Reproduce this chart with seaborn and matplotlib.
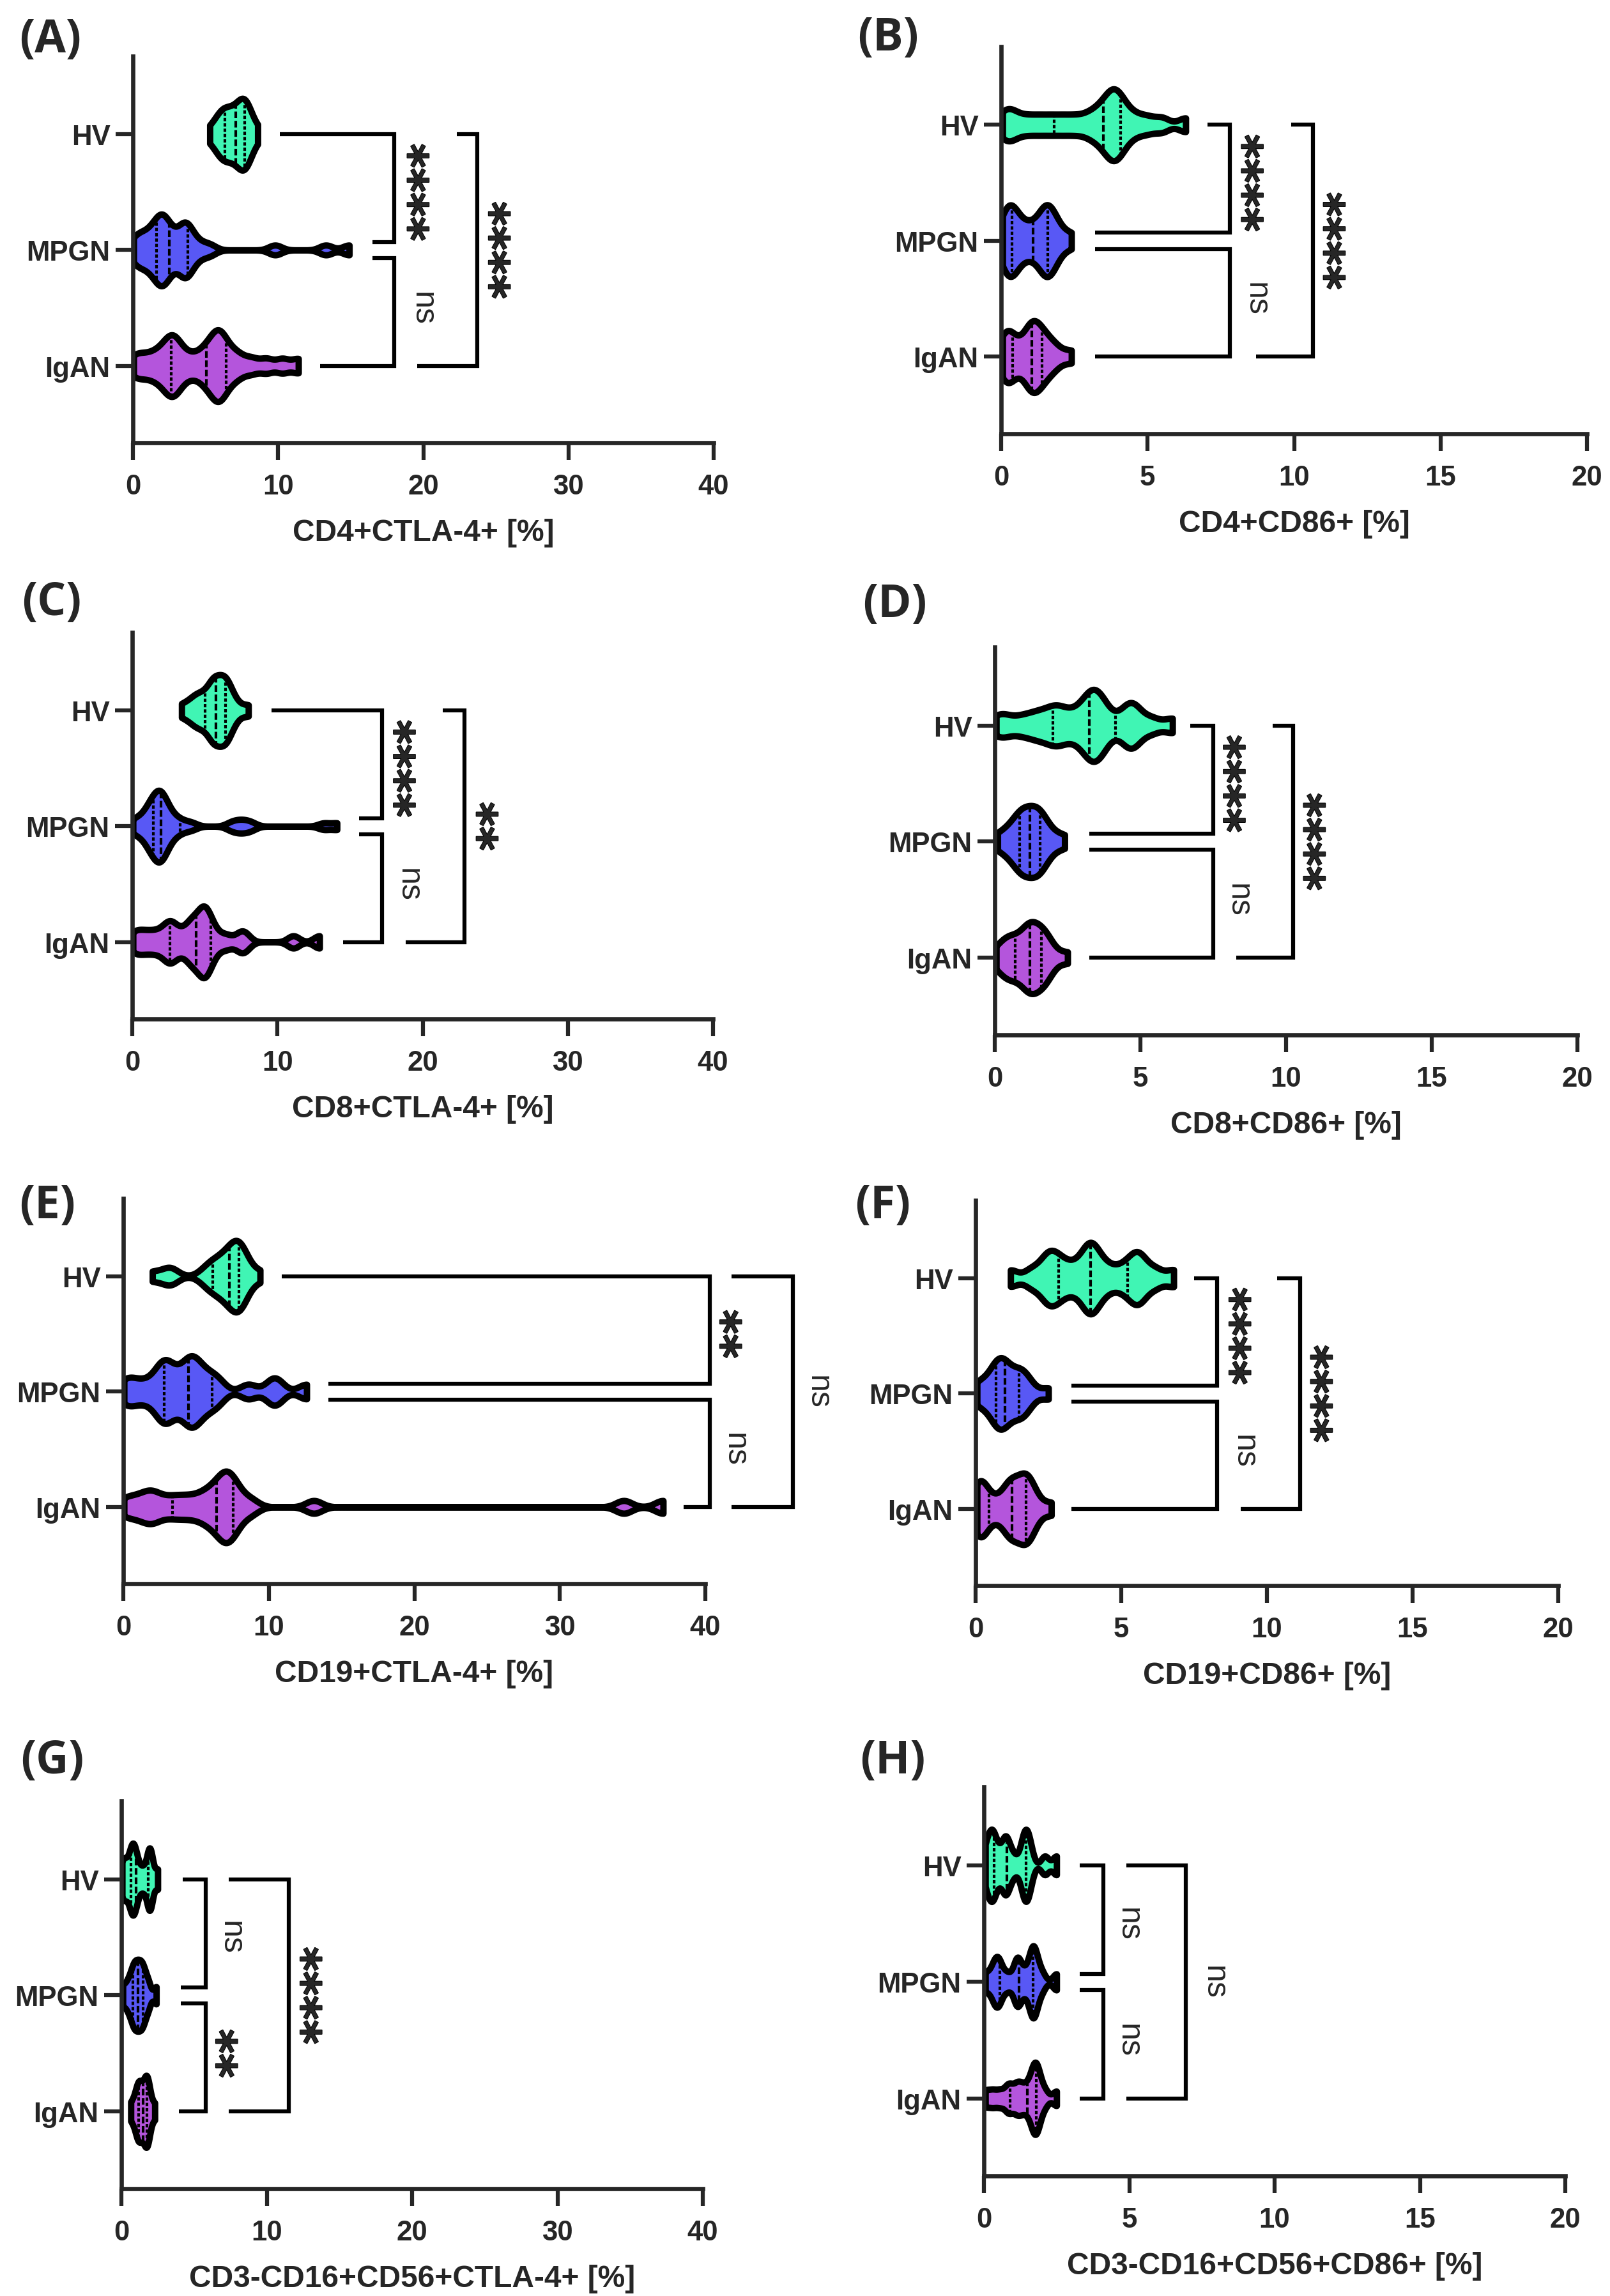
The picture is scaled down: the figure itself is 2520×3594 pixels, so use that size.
import numpy as np
import pandas as pd
import matplotlib
matplotlib.use("Agg")
import matplotlib.pyplot as plt
import matplotlib.transforms as mtransforms
import matplotlib.patheffects as pe
import seaborn as sns

GROUPS = ["HV", "MPGN", "IgAN"]
COLORS = {"HV": "#40F5B4", "MPGN": "#5858F5", "IgAN": "#B455DC"}

# ---- values (percent of cells) ----
A_HV = [5.3, 5.8, 6.0, 6.1, 6.3, 6.4, 6.6, 6.8, 7.0, 7.1, 7.3, 7.5, 7.6, 7.7, 7.7, 7.8, 7.9, 8.0, 8.6]
A_MPGN = [0.05, 0.3, 0.6, 0.9, 1.2, 1.4, 1.6, 1.8, 1.9, 2.0, 2.1, 2.2, 2.4, 2.6, 2.9, 3.3, 3.5, 3.6,
          3.7, 3.8, 4.1, 4.6, 5.3, 9.8, 13.3, 14.9]
A_IGAN = [0.05, 0.6, 1.2, 1.7, 2.1, 2.4, 2.6, 2.8, 3.0, 3.3, 3.8, 4.4, 4.9, 5.2, 5.5, 5.7, 5.9, 6.0,
          6.2, 6.5, 6.9, 7.4, 8.2, 9.2, 10.3, 11.4]

B_HV = [0.05, 0.25, 0.5, 0.9, 1.3, 1.7, 2.1, 2.5, 2.9, 3.2, 3.4, 3.6, 3.7, 3.8, 3.9, 4.0, 4.1, 4.3,
        4.6, 5.0, 5.5, 6.3]
B_MPGN = [0.05, 0.15, 0.25, 0.3, 0.35, 0.45, 0.6, 0.8, 1.0, 1.2, 1.4, 1.5, 1.55, 1.6, 1.7, 1.8, 2.0, 2.4]
B_IGAN = [0.05, 0.15, 0.2, 0.3, 0.4, 0.7, 0.9, 1.0, 1.05, 1.1, 1.15, 1.3, 1.4, 1.5, 1.7, 1.9, 2.4]

C_HV = [3.4, 4.0, 4.3, 4.6, 4.8, 5.1, 5.4, 5.5, 5.6, 5.7, 5.8, 6.0, 6.2, 6.3, 6.4, 6.5, 6.6, 6.8, 7.2, 8.0]
C_MPGN = [0.05, 0.3, 0.7, 0.9, 1.1, 1.2, 1.3, 1.4, 1.5, 1.6, 1.7, 1.8, 1.85, 1.9, 1.95, 2.0, 2.1, 2.2,
          2.3, 2.4, 2.6, 2.8, 3.1, 3.5, 4.1, 6.8, 7.3, 7.7, 8.2, 13.2, 14.1]
C_IGAN = [0.05, 0.5, 1.0, 1.5, 2.0, 2.4, 2.6, 2.8, 3.2, 3.7, 4.0, 4.2, 4.4, 4.7, 4.85, 4.95, 5.05, 5.2,
          5.4, 5.8, 6.5, 7.4, 7.8, 11.1, 12.9]

D_HV = [0.05, 0.4, 0.9, 1.3, 1.6, 1.9, 2.1, 2.3, 2.6, 2.9, 3.1, 3.25, 3.35, 3.45, 3.55, 3.7, 3.9, 4.4,
        4.6, 4.75, 4.9, 5.4, 6.1]
D_MPGN = [0.1, 0.4, 0.6, 0.8, 0.85, 0.9, 1.0, 1.1, 1.2, 1.3, 1.4, 1.5, 1.55, 1.6, 1.7, 2.0, 2.4]
D_IGAN = [0.05, 0.3, 0.45, 0.55, 0.7, 0.9, 1.1, 1.15, 1.2, 1.25, 1.3, 1.5, 1.6, 1.7, 1.75, 1.9, 2.5]

E_HV = [2.0, 3.1, 3.3, 5.6, 6.0, 6.3, 6.6, 6.9, 7.1, 7.3, 7.5, 7.7, 7.8, 7.9, 8.0, 8.1, 8.2, 8.5, 9.4]
E_MPGN = [0.05, 0.6, 1.4, 2.2, 2.6, 2.8, 3.0, 3.3, 3.8, 4.3, 4.5, 4.7, 4.9, 5.2, 5.6, 6.1, 6.6, 8.6,
          10.2, 10.6, 12.6]
E_IGAN = [0.05, 0.8, 1.5, 1.9, 2.4, 3.2, 3.9, 4.6, 5.3, 5.8, 6.2, 6.6, 6.8, 7.0, 7.2, 7.4, 7.6, 8.0,
          8.8, 13.1, 34.4, 37.1]

F_HV = [1.2, 1.9, 2.3, 2.5, 2.6, 2.8, 3.0, 3.3, 3.6, 3.8, 3.9, 4.0, 4.1, 4.3, 4.6, 5.0, 5.3, 5.5, 5.6,
        5.8, 6.2, 6.8]
F_MPGN = [0.05, 0.2, 0.5, 0.6, 0.7, 0.8, 0.85, 0.9, 1.0, 1.1, 1.2, 1.4, 1.5, 1.6, 1.7, 1.9, 2.5]
F_IGAN = [0.05, 0.1, 0.15, 0.2, 0.3, 0.6, 0.9, 1.1, 1.2, 1.25, 1.3, 1.5, 1.65, 1.7, 1.75, 1.8, 1.9, 2.1, 2.6]

G_HV = [0.05, 0.2, 0.4, 0.6, 0.7, 0.8, 0.9, 1.0, 1.2, 1.5, 1.8, 1.9, 2.0, 2.1, 2.5]
G_MPGN = [0.1, 0.4, 0.6, 0.75, 0.85, 0.95, 1.05, 1.15, 1.25, 1.35, 1.45, 1.55, 1.7, 1.9, 2.4]
G_IGAN = [0.65, 0.9, 1.05, 1.15, 1.2, 1.3, 1.4, 1.5, 1.6, 1.7, 1.75, 1.8, 1.85, 2.0, 2.3]

H_HV = [0.05, 0.15, 0.25, 0.3, 0.35, 0.5, 0.7, 0.75, 0.8, 1.0, 1.3, 1.4, 1.45, 1.5, 1.6, 2.1, 2.5]
H_MPGN = [0.05, 0.3, 0.4, 0.5, 0.55, 0.8, 1.1, 1.15, 1.2, 1.4, 1.6, 1.65, 1.7, 1.75, 1.8, 2.0, 2.5]
H_IGAN = [0.05, 0.3, 0.55, 0.8, 0.9, 1.1, 1.2, 1.35, 1.5, 1.65, 1.7, 1.75, 1.8, 1.85, 1.9, 2.1, 2.5]

# significance brackets: (group1, group2, start x g1, start x g2, vertical x, label, label x)
BR_A = [(0, 1, 10.1, 16.5, 18.0, "****", 19.9), (1, 2, 16.5, 12.9, 18.0, "ns", 19.9),
        (0, 2, 22.3, 19.6, 23.7, "****", 25.5)]
BR_B = [(0, 1, 7.05, 3.2, 7.8, "****", 8.7), (1, 2, 3.2, 3.2, 7.8, "ns", 8.7),
        (0, 2, 9.9, 8.7, 10.65, "****", 11.5)]
BR_C = [(0, 1, 9.6, 15.6, 17.2, "****", 19.0), (1, 2, 15.6, 14.5, 17.2, "ns", 19.0),
        (0, 2, 21.4, 18.85, 22.9, "**", 24.7)]
BR_D = [(0, 1, 6.7, 3.25, 7.5, "****", 8.35), (1, 2, 3.25, 3.25, 7.5, "ns", 8.35),
        (0, 2, 9.55, 8.3, 10.25, "****", 11.1)]
BR_E = [(0, 1, 10.9, 14.1, 40.3, "**", 42.0), (1, 2, 14.1, 38.5, 40.3, "ns", 42.0),
        (0, 2, 41.8, 41.8, 46.0, "ns", 47.7)]
BR_F = [(0, 1, 7.5, 3.3, 8.3, "****", 9.2), (1, 2, 3.3, 3.3, 8.3, "ns", 9.2),
        (0, 2, 10.35, 9.1, 11.15, "****", 12.0)]
BR_G = [(0, 1, 4.2, 4.1, 5.8, "ns", 7.5), (1, 2, 4.1, 3.95, 5.8, "**", 7.5),
        (0, 2, 7.4, 7.4, 11.5, "****", 13.3)]
BR_H = [(0, 1, 3.3, 3.3, 4.1, "ns", 4.95), (1, 2, 3.3, 3.3, 4.1, "ns", 4.95),
        (0, 2, 4.9, 4.9, 6.95, "ns", 7.9)]

PANELS = [
    ("(A)", [A_HV, A_MPGN, A_IGAN], "CD4+CTLA-4+ [%]", 40, 10, 0.45, BR_A),
    ("(B)", [B_HV, B_MPGN, B_IGAN], "CD4+CD86+ [%]", 20, 5, 0.25, BR_B),
    ("(C)", [C_HV, C_MPGN, C_IGAN], "CD8+CTLA-4+ [%]", 40, 10, 0.40, BR_C),
    ("(D)", [D_HV, D_MPGN, D_IGAN], "CD8+CD86+ [%]", 20, 5, 0.28, BR_D),
    ("(E)", [E_HV, E_MPGN, E_IGAN], "CD19+CTLA-4+ [%]", 40, 10, 0.55, BR_E),
    ("(F)", [F_HV, F_MPGN, F_IGAN], "CD19+CD86+ [%]", 20, 5, 0.25, BR_F),
    ("(G)", [G_HV, G_MPGN, G_IGAN], "CD3-CD16+CD56+CTLA-4+ [%]", 40, 10, 0.17, BR_G),
    ("(H)", [H_HV, H_MPGN, H_IGAN], "CD3-CD16+CD56+CD86+ [%]", 20, 5, 0.13, BR_H),
]

# layout in pixels: axes (left, right, top, bottom) and panel tag (x, y centre)
W, H = 2520, 3595
BOXES = [(208, 1117, 89, 694), (1567, 2484, 74, 680),
         (207, 1116, 991, 1596), (1557, 2469, 1014, 1621),
         (193, 1104, 1877, 2480), (1527, 2439, 1880, 2483),
         (190, 1100, 2820, 3427), (1540, 2450, 2798, 3407)]
TAGS = [(30, 63), (1342, 60), (34, 944), (1350, 947),
        (30, 1888), (1338, 1888), (32, 2757), (1346, 2757)]

sns.set_style("ticks")
plt.rcParams["font.family"] = ["Liberation Sans", "DejaVu Sans"]
plt.rcParams["font.weight"] = "bold"
plt.rcParams["axes.labelweight"] = "bold"


def fixed_bw(h):
    # kernel bandwidth in data units, independent of each group's spread
    def f(kde):
        sd = float(np.std(kde.dataset, ddof=1))
        return h / sd if sd > 0 else 1.0
    return f


def bracket(ax, g1, g2, x1, x2, xv, label, xl):
    y1 = g1 + (0.07 if g1 == 1 else 0)
    y2 = g2 - (0.07 if g2 == 1 else 0)
    ax.plot([x1, xv, xv, x2], [y1, y1, y2, y2], color="black", lw=1.5,
            clip_on=False, solid_joinstyle="miter", solid_capstyle="butt")
    ym = (g1 + g2) / 2
    if "*" in label:
        tr = mtransforms.offset_copy(ax.transData, fig=ax.figure, x=-5.4, y=0, units="points")
        ax.text(xl, ym, label, rotation=270, ha="center", va="center", fontsize=17.5,
                fontweight="bold", family="DejaVu Sans", transform=tr, clip_on=False,
                path_effects=[pe.withStroke(linewidth=0.45, foreground="black")])
    else:
        ax.text(xl, ym, label, rotation=270, ha="center", va="center", fontsize=12,
                fontweight="normal", clip_on=False)


fig = plt.figure(figsize=(W / 300, H / 300), dpi=300)
fig.patch.set_facecolor("white")

for (tag, data, xlabel, xmax, step, bw, brs), (l, r, t, b), (tx, ty) in zip(PANELS, BOXES, TAGS):
    ax = fig.add_axes([l / W, 1 - b / H, (r - l) / W, (b - t) / H])
    ax.patch.set_alpha(0)
    df = pd.DataFrame({"group": np.repeat(GROUPS, [len(d) for d in data]),
                       "value": np.concatenate(data)})
    sns.violinplot(data=df, x="value", y="group", hue="group", order=GROUPS, hue_order=GROUPS,
                   palette=COLORS, saturation=1, orient="y", cut=0, inner="quart",
                   density_norm="width", width=0.62, linewidth=2.4, linecolor="black",
                   gridsize=400, bw_method=fixed_bw(bw), legend=False,
                   inner_kws=dict(linewidth=1.0, color="black"), ax=ax, joinstyle="round")
    ax.set_xlim(0, xmax)
    ax.set_xticks(np.arange(0, xmax + 1, step))
    ax.set_ylim(2.665, -0.675)
    ax.set_ylabel("")
    ax.set_xlabel(xlabel, fontsize=11.5, fontweight="bold", labelpad=7)
    ax.tick_params(axis="x", direction="out", length=6.5, width=1.5, labelsize=10.5, pad=5)
    ax.tick_params(axis="y", direction="out", length=6.5, width=1.5, labelsize=10.5, pad=2)
    for s in ["top", "right"]:
        ax.spines[s].set_visible(False)
    for s in ["left", "bottom"]:
        ax.spines[s].set_linewidth(1.6)
    for br in brs:
        bracket(ax, *br)
    fig.text(tx / W, 1 - ty / H, tag, fontsize=17, fontweight="bold",
             family=["Open Sans", "DejaVu Sans"], ha="left", va="center")

fig.savefig("out.png", dpi=300)
